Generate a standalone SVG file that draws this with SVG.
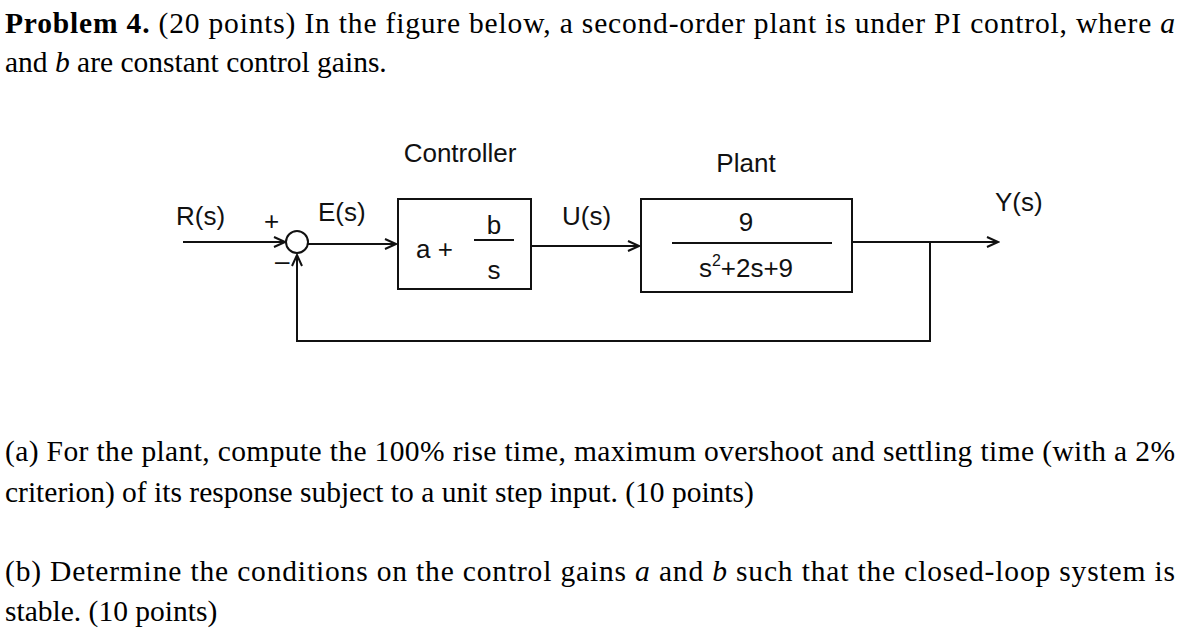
<svg xmlns="http://www.w3.org/2000/svg" width="1202" height="643" viewBox="0 0 1202 643">
<style>
.t{font-family:"Liberation Serif","Times New Roman",serif;font-size:29.5px;fill:#000}
.h{font-family:"Liberation Sans",Arial,sans-serif;font-size:26px;fill:#111}
.ln{stroke:#111;stroke-width:2;fill:none}
.bx{stroke:#111;stroke-width:2;fill:#fff}
</style>
<defs><marker id="ar" markerWidth="14" markerHeight="12" refX="12" refY="6" orient="auto" markerUnits="userSpaceOnUse"><path d="M1,1 L12,6 L1,11" fill="none" stroke="#111" stroke-width="2"/></marker></defs>
<rect width="1202" height="643" fill="#fff"/>
<text class="t" x="5" y="33" textLength="1170" lengthAdjust="spacing"><tspan font-weight="bold">Problem 4.</tspan> (20 points) In the figure below, a second-order plant is under PI control, where <tspan font-style="italic">a</tspan></text>
<text class="t" x="5" y="72">and <tspan font-style="italic">b</tspan> are constant control gains.</text>
<g id="connectors">
<line class="ln" x1="183" y1="242" x2="285" y2="242" marker-end="url(#ar)"/>
<line class="ln" x1="308" y1="244" x2="396" y2="244" marker-end="url(#ar)"/>
<line class="ln" x1="531" y1="246" x2="639" y2="246" marker-end="url(#ar)"/>
<line class="ln" x1="852" y1="242" x2="998" y2="242" marker-end="url(#ar)"/>
<polyline class="ln" points="930,242 930,341 297,341 297,255" marker-end="url(#ar)"/>
</g>
<g id="sum"><circle class="bx" cx="297" cy="242" r="11"/>
<text class="h" x="264" y="230">+</text><text class="h" x="275" y="270">–</text></g>
<g id="controller"><rect class="bx" x="398" y="199" width="133" height="90"/>
<text class="h" x="460" y="162" text-anchor="middle" font-size="25">Controller</text>
<text class="h" x="416" y="258" font-size="30">a +</text>
<line class="ln" x1="474" y1="240" x2="514" y2="240"/>
<text class="h" x="494" y="234" text-anchor="middle" font-size="28">b</text>
<text class="h" x="494" y="279" text-anchor="middle" font-size="28">s</text></g>
<g id="plant"><rect class="bx" x="641" y="199" width="211" height="93"/>
<text class="h" x="746" y="172" text-anchor="middle" font-size="28">Plant</text>
<text class="h" x="746" y="231" text-anchor="middle" font-size="28">9</text>
<line class="ln" x1="672" y1="243" x2="832" y2="243"/>
<text class="h" x="746" y="277" text-anchor="middle" font-size="28">s<tspan font-size="16" dy="-11">2</tspan><tspan dy="11">+2s+9</tspan></text></g>
<g id="labels">
<text class="h" x="176" y="225">R(s)</text>
<text class="h" x="318" y="221">E(s)</text>
<text class="h" x="562" y="225">U(s)</text>
<text class="h" x="995" y="211">Y(s)</text>
</g>
<text class="t" x="5" y="461" textLength="1170" lengthAdjust="spacing">(a) For the plant, compute the 100% rise time, maximum overshoot  and settling time (with a 2%</text>
<text class="t" x="5" y="502">criterion) of its response subject to a unit step input. (10 points)</text>
<text class="t" x="5" y="581" textLength="1170" lengthAdjust="spacing">(b) Determine the conditions on the control gains <tspan font-style="italic">a</tspan> and <tspan font-style="italic">b</tspan> such that the closed-loop system is</text>
<text class="t" x="5" y="621">stable. (10 points)</text>
</svg>
